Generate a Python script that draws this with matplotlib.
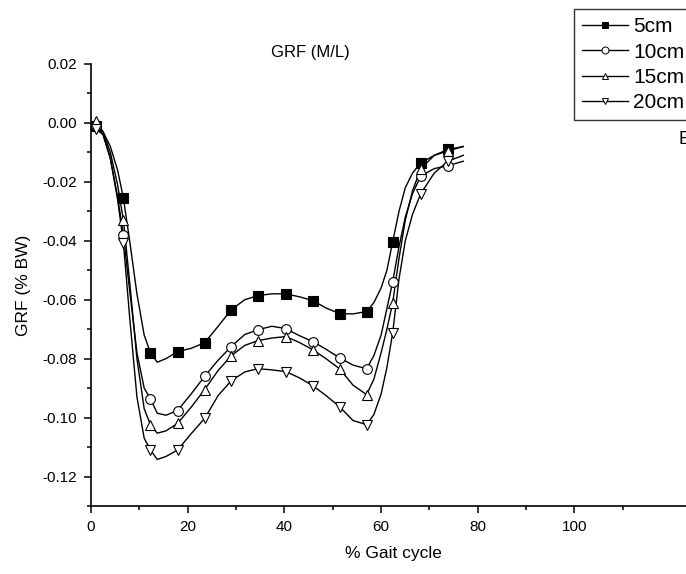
import matplotlib
matplotlib.use("Agg")
import matplotlib.pyplot as plt
from matplotlib.ticker import MultipleLocator, FixedLocator, FormatStrFormatter

plt.rcParams['font.family'] = ['Liberation Sans', 'DejaVu Sans']
plt.rcParams['axes.unicode_minus'] = False

# marker positions (% gait cycle) and values (% BW)
marker_x = [1.0, 6.7, 12.3, 17.9, 23.5, 29.0, 34.5, 40.3, 45.9, 51.4, 57.0, 62.4, 68.2, 73.8]
mk_5cm = [-0.001, -0.0255, -0.078, -0.0776, -0.0746, -0.0634, -0.0586, -0.058, -0.0603, -0.0647, -0.064, -0.0403, -0.0136, -0.009]
mk_10cm = [-0.001, -0.038, -0.0936, -0.0976, -0.086, -0.0759, -0.0702, -0.0698, -0.0742, -0.0797, -0.0834, -0.0539, -0.018, -0.0145]
mk_15cm = [0.0005, -0.033, -0.1024, -0.102, -0.0905, -0.079, -0.0739, -0.0725, -0.077, -0.0834, -0.0922, -0.061, -0.0156, -0.0095]
mk_20cm = [-0.002, -0.0407, -0.111, -0.111, -0.1003, -0.0875, -0.0834, -0.0844, -0.0892, -0.0963, -0.1024, -0.0712, -0.024, -0.013]

# curve samples
line_x = [1.0, 2.5, 4.0, 5.5, 6.7, 8.0, 9.5, 11.0, 12.3, 13.7, 15.5, 17.9, 20.7, 23.5, 26.3,
          29.0, 31.8, 34.5, 37.4, 40.3, 43.1, 45.9, 48.6, 51.4, 54.2, 57.0, 58.5, 60.0, 61.2,
          62.4, 63.7, 65.0, 66.5, 68.2, 71.0, 73.8, 77.0]
ln_5cm = [-0.001, -0.003, -0.008, -0.016, -0.0255, -0.040, -0.058, -0.072, -0.078, -0.0812,
          -0.080, -0.0776, -0.0765, -0.0746, -0.069, -0.0634, -0.060, -0.0586, -0.058, -0.058,
          -0.059, -0.0603, -0.0628, -0.0647, -0.0648, -0.064, -0.061, -0.056, -0.050, -0.0403,
          -0.030, -0.022, -0.017, -0.0136, -0.011, -0.009, -0.008]
ln_10cm = [-0.001, -0.004, -0.012, -0.025, -0.038, -0.057, -0.078, -0.090, -0.0936, -0.0985,
           -0.0992, -0.0976, -0.092, -0.086, -0.0805, -0.0759, -0.0718, -0.0702, -0.069, -0.0698,
           -0.0722, -0.0742, -0.0768, -0.0797, -0.0822, -0.0834, -0.079, -0.072, -0.063, -0.0539,
           -0.042, -0.032, -0.024, -0.018, -0.0155, -0.0145, -0.013]
ln_15cm = [0.0005, -0.003, -0.010, -0.021, -0.033, -0.054, -0.080, -0.097, -0.1024, -0.1053,
           -0.1045, -0.102, -0.0965, -0.0905, -0.084, -0.079, -0.0755, -0.0739, -0.073, -0.0725,
           -0.0745, -0.077, -0.080, -0.0834, -0.089, -0.0922, -0.087, -0.078, -0.070, -0.061,
           -0.046, -0.033, -0.023, -0.0156, -0.011, -0.0095, -0.008]
ln_20cm = [-0.002, -0.004, -0.012, -0.026, -0.0407, -0.066, -0.093, -0.107, -0.111, -0.1142,
           -0.1132, -0.111, -0.1055, -0.1003, -0.0925, -0.0875, -0.0845, -0.0834, -0.0838, -0.0844,
           -0.0865, -0.0892, -0.0925, -0.0963, -0.101, -0.1024, -0.099, -0.092, -0.083, -0.0712,
           -0.053, -0.040, -0.031, -0.024, -0.017, -0.013, -0.011]

labels = ["5cm", "10cm", "15cm", "20cm"]
markers = ["s", "o", "^", "v"]
faces = ["black", "white", "white", "white"]

fig = plt.figure(figsize=(6.86, 5.74), dpi=100)
ax = fig.add_axes([91 / 686, 1 - 506 / 574, 125 * 4.835 / 686, (506 - 64) / 574])

for lx, ly, mx, my, lab, m, fc in zip(
        [line_x] * 4, [ln_5cm, ln_10cm, ln_15cm, ln_20cm],
        [marker_x] * 4, [mk_5cm, mk_10cm, mk_15cm, mk_20cm],
        labels, markers, faces):
    ax.plot(lx, ly, color="black", lw=1.0, zorder=2)
    ax.plot(mx, my, ls="none", marker=m, ms=7 if m != "s" else 6.5,
            mfc=fc, mec="black", mew=0.8, zorder=3)
    ax.plot([], [], color="black", lw=1.0, marker=m, ms=5 if m != "s" else 4.5,
            mfc=fc, mec="black", mew=0.7, label=lab)

ax.set_xlim(0, 125)
ax.set_ylim(-0.13, 0.02)
ax.xaxis.set_major_locator(FixedLocator([0, 20, 40, 60, 80, 100]))
ax.xaxis.set_minor_locator(FixedLocator([10, 30, 50, 70, 90, 110]))
ax.yaxis.set_major_locator(MultipleLocator(0.02))
ax.yaxis.set_minor_locator(MultipleLocator(0.01))
ax.yaxis.set_major_formatter(FormatStrFormatter("%.2f"))
ax.tick_params(which="major", direction="out", length=5, width=1.1, labelsize=11, pad=5)
ax.tick_params(which="minor", direction="out", length=3, width=1.1)
ax.spines["top"].set_visible(False)
ax.spines["right"].set_visible(False)
ax.spines["left"].set_linewidth(1.2)
ax.spines["bottom"].set_linewidth(1.2)

ax.set_xlabel("% Gait cycle", fontsize=12.5, labelpad=9)
ax.set_ylabel("GRF (% BW)", fontsize=12.5, labelpad=8)
fig.text(310 / 686, 1 - 53 / 574, "GRF (M/L)", fontsize=12, ha="center", va="center")
fig.text(679 / 686, 1 - 140 / 574, "E", fontsize=13, ha="left", va="center")

leg = fig.legend(loc="upper left", bbox_to_anchor=(574 / 686, 1 - 9 / 574),
                 fontsize=15, frameon=True, fancybox=False, handlelength=2.2,
                 handletextpad=0.25, borderpad=0.4, labelspacing=0.3,
                 borderaxespad=0)
leg.get_frame().set_edgecolor("black")
leg.get_frame().set_linewidth(1.0)

fig.savefig("out.png", dpi=100)
